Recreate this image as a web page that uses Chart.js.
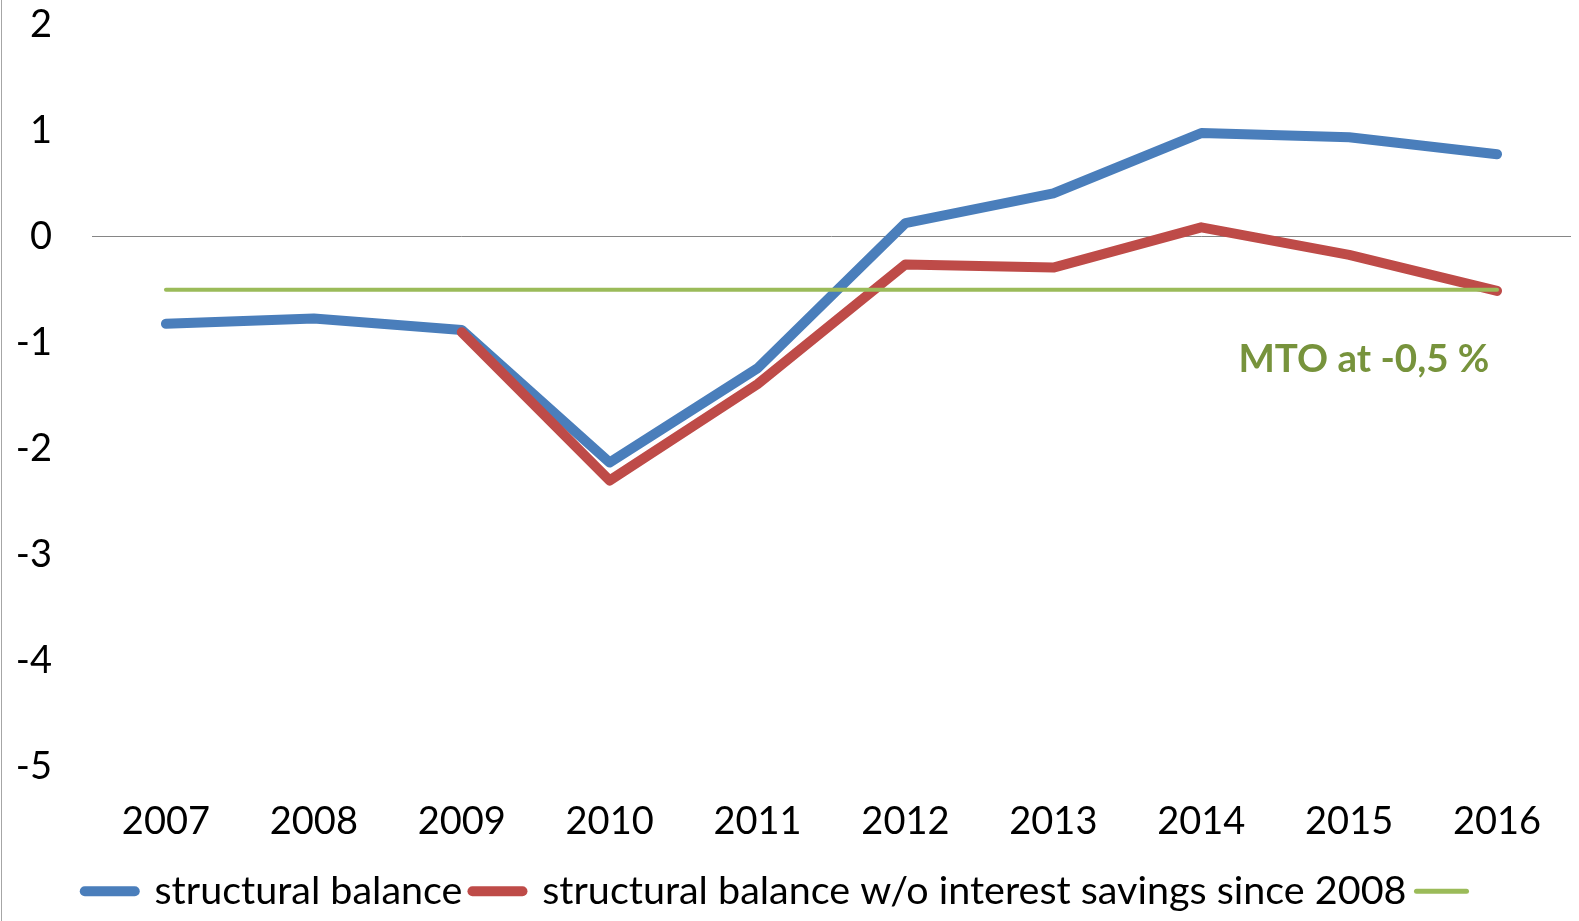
<!DOCTYPE html>
<html>
<head>
<meta charset="utf-8">
<title>Structural balance</title>
<script src="https://cdn.jsdelivr.net/npm/chart.js@4/dist/chart.umd.min.js"></script>
<style>
  body { margin: 0; background: #fff; }
  #wrap { position: relative; width: 1579px; height: 921px; }
  #edge { position: absolute; left: 1px; top: 0; width: 1px; height: 921px; background: #a6a6a6; }
</style>
</head>
<body>
<div id="wrap">
  <canvas id="balanceChart" width="1579" height="921"></canvas>
  <div id="edge"></div>
</div>
<script>
// data
const years = ["2007", "2008", "2009", "2010", "2011", "2012", "2013", "2014", "2015", "2016"];
const structuralBalance = [-0.82, -0.77, -0.88, -2.13, -1.24, 0.13, 0.41, 0.98, 0.94, 0.78];
const withoutInterest = [null, null, -0.9, -2.3, -1.39, -0.26, -0.29, 0.09, -0.17, -0.51];
const mto = [-0.5, -0.5, -0.5, -0.5, -0.5, -0.5, -0.5, -0.5, -0.5, -0.5];
const mtoLabel = "MTO at -0,5 %";
const mtoLabelAt = { x: 8.1, y: -1.16 };

const FONT = "Lato";

// draws the green "MTO" note next to the line
const mtoNote = {
  id: "mtoNote",
  afterDatasetsDraw(chart) {
    const ctx = chart.ctx;
    const xs = chart.scales.x, ys = chart.scales.y;
    ctx.save();
    ctx.font = "bold 38.5px " + FONT;
    ctx.fillStyle = "#77933c";
    ctx.textAlign = "center";
    ctx.textBaseline = "middle";
    ctx.fillText(mtoLabel, xs.getPixelForValue(mtoLabelAt.x), ys.getPixelForValue(mtoLabelAt.y));
    ctx.restore();
  }
};

// legend swatches: round-capped lines as thick as the series
function legendLabels(chart) {
  const items = Chart.defaults.plugins.legend.labels.generateLabels(chart);
  items.forEach((it) => {
    const ds = chart.data.datasets[it.datasetIndex];
    it.lineCap = "round";
    it.lineWidth = ds.borderWidth === 4 ? 5 : ds.borderWidth;
    it.strokeStyle = ds.borderColor;
  });
  return items;
}

const ctx = document.getElementById("balanceChart").getContext("2d");
new Chart(ctx, {
  type: "line",
  data: {
    labels: years,
    datasets: [
      {
        label: "structural balance",
        data: structuralBalance,
        borderColor: "#4a7ebb",
        backgroundColor: "#4a7ebb",
        borderWidth: 10,
        borderCapStyle: "round",
        borderJoinStyle: "round",
        order: 2
      },
      {
        label: "structural balance w/o interest savings since 2008",
        data: withoutInterest,
        borderColor: "#be4b48",
        backgroundColor: "#be4b48",
        borderWidth: 10,
        borderCapStyle: "round",
        borderJoinStyle: "round",
        order: 1
      },
      {
        label: "",
        data: mto,
        borderColor: "#9bbb59",
        backgroundColor: "#9bbb59",
        borderWidth: 4,
        borderCapStyle: "round",
        order: 0
      }
    ]
  },
  options: {
    responsive: false,
    animation: false,
    elements: { point: { radius: 0, hoverRadius: 0 }, line: { tension: 0 } },
    layout: { padding: { top: 25, right: 8, left: 0, bottom: 0 } },
    plugins: {
      tooltip: { enabled: false },
      legend: {
        position: "bottom",
        labels: {
          usePointStyle: true,
          pointStyle: "line",
          pointStyleWidth: 50,
          padding: 10,
          color: "#000",
          font: { family: FONT, size: 39.5 },
          generateLabels: legendLabels,
          sort: (a, b) => a.datasetIndex - b.datasetIndex
        }
      }
    },
    scales: {
      x: {
        offset: true,
        grid: { display: false, offset: true },
        border: { display: false },
        ticks: { color: "#000", font: { family: FONT, size: 38 }, padding: 24, maxRotation: 0 },
        afterFit: (s) => { s.height = 95; }
      },
      y: {
        min: -5,
        max: 2,
        grid: {
          drawTicks: false,
          color: (c) => (c.tick && c.tick.value === 0 ? "#868686" : "rgba(0,0,0,0)"),
          lineWidth: 1
        },
        border: { display: false },
        ticks: { stepSize: 1, color: "#000", font: { family: FONT, size: 38 }, padding: 40 },
        afterFit: (s) => { s.width = 92; s.paddingTop = 0; s.paddingBottom = 0; }
      }
    }
  },
  plugins: [mtoNote]
});
</script>
</body>
</html>
